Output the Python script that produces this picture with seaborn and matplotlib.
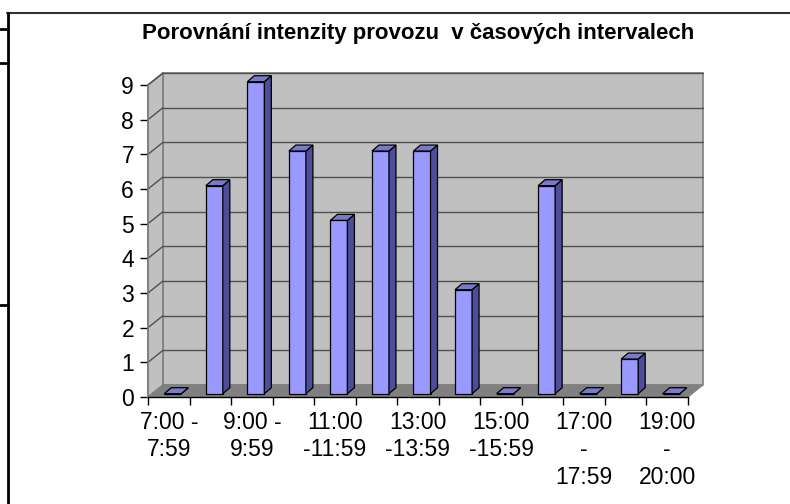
import numpy as np
import pandas as pd
import matplotlib
matplotlib.use("Agg")
import matplotlib.pyplot as plt
from matplotlib.patches import Polygon, Rectangle
from matplotlib.lines import Line2D
from matplotlib.transforms import Affine2D, IdentityTransform
import seaborn as sns

# ---- data ----
categories = ["7:00-7:59", "8:00-8:59", "9:00-9:59", "10:00-10:59", "11:00-11:59",
              "12:00-12:59", "13:00-13:59", "14:00-14:59", "15:00-15:59",
              "16:00-16:59", "17:00-17:59", "18:00-18:59", "19:00-20:00"]
values = [0, 6, 9, 7, 5, 7, 7, 3, 0, 6, 0, 1, 0]
tick_labels = ["7:00 -\n7:59", "9:00 -\n9:59", "11:00\n-11:59", "13:00\n-13:59",
               "15:00\n-15:59", "17:00\n-\n17:59", "19:00\n-\n20:00"]
title = "Porovnání intenzity provozu  v časových intervalech"

sns.set_theme(style="white")
plt.rcParams["font.family"] = ["Liberation Sans", "DejaVu Sans"]

W, H, DPI = 790, 504, 100
fig = plt.figure(figsize=(W / DPI, H / DPI), dpi=DPI)
fig.patch.set_facecolor("white")

# front plane of the 3-D box
x0p, x1p, y0p, y9p = 148, 688, 397, 85
ax = fig.add_axes([x0p / W, (H - y0p) / H, (x1p - x0p) / W, (y0p - y9p) / H])
ax.patch.set_visible(False)

df = pd.DataFrame({"cat": categories, "val": values})
sns.barplot(data=df, x="cat", y="val", color="#9999FF", saturation=1, width=0.41,
            edgecolor="black", linewidth=0.9, ax=ax, zorder=5)
ax.set_xlim(-0.5, len(categories) - 0.5)
ax.set_ylim(0, 9)

DX, DY = 15, 12        # wall depth in pixels
BX, BY = 4, 3.3        # bar front offset
BD, BDY = 7, 6         # bar depth

wall_off = ax.transData + Affine2D().translate(DX, DY)
xmin, xmax = ax.get_xlim()

# back wall
ax.add_patch(Rectangle((xmin, 0), xmax - xmin, 9, transform=wall_off,
                       facecolor="#C0C0C0", edgecolor="#808080", lw=1.2,
                       zorder=0, clip_on=False))
for yv in range(1, 10):
    ax.add_line(Line2D([xmin, xmax], [yv, yv], transform=wall_off,
                       color="#505050", lw=1.0, zorder=0.5, clip_on=False))

def disp(x, y):
    return ax.transData.transform((x, y))

# side wall
fl0, fl9 = disp(xmin, 0), disp(xmin, 9)
side = [fl0, fl9, fl9 + [DX, DY], fl0 + [DX, DY]]
ax.add_patch(Polygon(side, closed=True, transform=IdentityTransform(),
                     facecolor="#C0C0C0", edgecolor="#808080", lw=1.2,
                     zorder=0.2, clip_on=False))
for yv in range(1, 10):
    p = disp(xmin, yv)
    ax.add_line(Line2D([p[0], p[0] + DX], [p[1], p[1] + DY],
                       transform=IdentityTransform(), color="#505050", lw=1.0,
                       zorder=0.5, clip_on=False))

# floor
fr0 = disp(xmax, 0)
floor = [fl0, fr0, fr0 + [DX, DY], fl0 + [DX, DY]]
ax.add_patch(Polygon(floor, closed=True, transform=IdentityTransform(),
                     facecolor="#808080", edgecolor="#808080", lw=0.8,
                     zorder=0.6, clip_on=False))

# bars: 3-D faces derived from seaborn's bar patches
bar_patches = list(ax.patches)[: len(values)]
for p in bar_patches:
    bx, by, bw, bh = p.get_x(), p.get_y(), p.get_width(), p.get_height()
    p.set_transform(ax.transData + Affine2D().translate(BX, BY))
    p.set_clip_on(False)
    lr = disp(bx + bw, by) + [BX, BY]
    ur = disp(bx + bw, by + bh) + [BX, BY]
    ul = disp(bx, by + bh) + [BX, BY]
    d = np.array([BD, BDY])
    ax.add_patch(Polygon([lr, ur, ur + d, lr + d], closed=True,
                         transform=IdentityTransform(), facecolor="#4D4D99",
                         edgecolor="black", lw=0.9, zorder=5, clip_on=False))
    ax.add_patch(Polygon([ul, ur, ur + d, ul + d], closed=True,
                         transform=IdentityTransform(), facecolor="#7A7ACC",
                         edgecolor="black", lw=0.9, zorder=5, clip_on=False))

# axes styling
for s in ["top", "right"]:
    ax.spines[s].set_visible(False)
ax.spines["left"].set_color("#808080")
ax.spines["left"].set_linewidth(1.2)
ax.spines["bottom"].set_color("black")
ax.spines["bottom"].set_linewidth(1.0)
ax.spines["left"].set_zorder(1)

ax.set_yticks(range(0, 10))
ax.set_yticklabels([str(v) for v in range(0, 10)])
ax.tick_params(axis="y", length=6, width=1, color="black", pad=4,
               labelsize=16.5, labelcolor="black", left=True)

ax.set_xticks(np.arange(xmin, xmax + 0.01, 1))
ax.set_xticklabels([])
ax.tick_params(axis="x", which="major", length=6, width=1, color="black",
               bottom=True, direction="out")
ax.set_xticks(np.arange(0, len(categories), 2), minor=True)
ax.set_xticklabels(tick_labels, minor=True)
ax.tick_params(axis="x", which="minor", length=0, pad=10, labelsize=16.5,
               labelcolor="black")
for t in ax.get_xticklabels(minor=True):
    t.set_linespacing(1.25)
ax.set_xlabel("")
ax.set_ylabel("")

# title
fig.text(418 / W, 1 - 33 / H, title, ha="center", va="center",
         fontsize=16, fontweight="bold", color="black")

# frame / spreadsheet cell borders
fig.add_artist(Line2D([7 / W, 1], [1 - 13 / H] * 2, color="#333333", lw=1.5,
                      transform=fig.transFigure))
fig.add_artist(Line2D([7.5 / W] * 2, [1 - 13 / H, 0], color="black", lw=2,
                      transform=fig.transFigure))
for yy in [29, 63, 305]:
    fig.add_artist(Line2D([0, 8 / W], [1 - yy / H] * 2, color="black", lw=2,
                          transform=fig.transFigure))

fig.savefig("out.png", dpi=DPI)
